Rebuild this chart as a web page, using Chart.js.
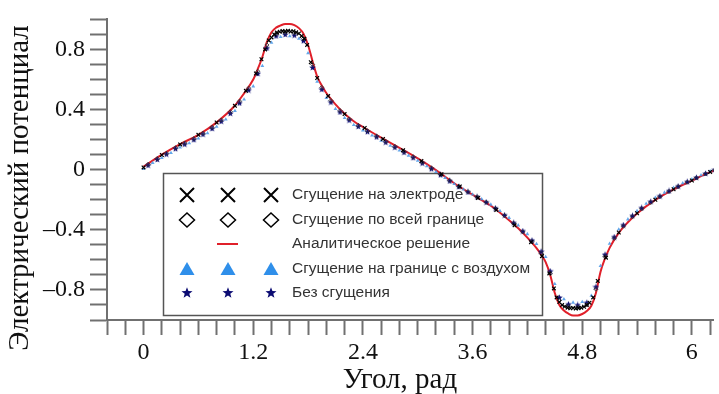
<!DOCTYPE html>
<html>
<head>
<meta charset="utf-8">
<script src="https://cdn.jsdelivr.net/npm/chart.js@4"></script>
<style>
  html, body { margin: 0; padding: 0; background: #fff; }
  #wrap { width: 719px; height: 394px; }
</style>
</head>
<body>
<div id="wrap"><canvas id="chart" width="719" height="394"></canvas></div>
<script>
// Angles (rad) at which the numerical solutions are sampled
const gridAngles = [0.0,0.1,0.2,0.3,0.4,0.5,0.6,0.7,0.8,0.9,1.0,1.1,1.2,1.3,1.4,1.5,1.6,1.7,1.8,1.9,
  2.0,2.1,2.2,2.3,2.4,2.5,2.6,2.7,2.8,2.9,3.0,3.1,3.2,3.3,3.4,3.5,3.6,3.7,3.8,3.9,
  4.0,4.1,4.2,4.3,4.4,4.5,4.6,4.7,4.8,4.9,5.0,5.1,5.2,5.3,5.4,5.5,5.6,5.7,5.8,5.9,6.0,6.1,6.2];
const halfAngles = [0.05,0.15,0.25,0.35,0.45,0.55,0.65,0.75,0.85,0.95,1.05,1.15,1.25,1.35,1.45,1.55,1.65,1.75,1.85,1.95,
  2.05,2.15,2.25,2.35,2.45,2.55,2.65,2.75,2.85,2.95,3.05,3.15,3.25,3.35,3.45,3.55,3.65,3.75,3.85,3.95,
  4.05,4.15,4.25,4.35,4.45,4.55,4.65,4.75,4.85,4.95,5.05,5.15,5.25,5.35,5.45,5.55,5.65,5.75,5.85,5.95,6.05,6.15,6.25];

// Mesh refined on the electrode: sparse elsewhere, dense on the electrodes
const electrodeAngles = [0.0,0.2,0.4,0.6,0.8,1.0,1.12,1.23,1.29,1.33,1.37,1.40,1.43,1.46,1.49,1.52,1.55,1.58,1.61,1.64,
  1.67,1.70,1.73,1.76,1.79,1.83,1.90,2.02,2.20,2.42,2.62,2.84,3.04,3.26,3.46,3.66,3.86,4.06,4.24,4.36,
  4.44,4.49,4.52,4.55,4.58,4.61,4.64,4.67,4.70,4.73,4.76,4.79,4.82,4.85,4.88,4.92,4.97,5.06,5.20,5.40,5.60,5.80,6.00,6.20];
const electrodeValues = [0.015,0.098,0.168,0.232,0.314,0.425,0.525,0.640,0.735,0.800,0.860,0.880,0.900,0.912,0.918,0.922,0.920,0.924,0.919,0.921,
  0.914,0.906,0.890,0.872,0.830,0.715,0.610,0.490,0.370,0.278,0.205,0.130,0.058,-0.030,-0.112,-0.188,-0.268,-0.370,-0.482,-0.575,
  -0.690,-0.790,-0.850,-0.880,-0.900,-0.910,-0.918,-0.922,-0.920,-0.924,-0.921,-0.918,-0.912,-0.900,-0.885,-0.850,-0.740,-0.585,-0.418,-0.290,-0.200,-0.130,-0.072,-0.015];

// Mesh refined along the whole boundary (sampled at halfAngles)
const boundaryValues = [0.036,0.074,0.110,0.146,0.178,0.207,0.243,0.283,0.331,0.386,0.456,0.543,0.655,0.830,0.905,0.912,0.910,0.872,0.700,0.548,
  0.460,0.393,0.338,0.295,0.259,0.224,0.189,0.155,0.121,0.086,0.050,0.012,-0.030,-0.071,-0.110,-0.146,-0.180,-0.216,-0.258,-0.305,
  -0.357,-0.414,-0.478,-0.556,-0.690,-0.870,-0.908,-0.913,-0.900,-0.795,-0.578,-0.457,-0.376,-0.313,-0.260,-0.218,-0.180,-0.145,-0.113,-0.083,-0.055,-0.028,-0.002];

// Mesh refined on the air boundary (sampled at gridAngles)
const airValues = [0.005,0.045,0.078,0.112,0.148,0.176,0.208,0.243,0.286,0.335,0.392,0.468,0.555,0.690,0.845,0.884,0.889,0.872,0.775,0.585,
  0.478,0.405,0.345,0.298,0.262,0.228,0.194,0.160,0.128,0.094,0.060,0.024,-0.014,-0.054,-0.094,-0.131,-0.164,-0.196,-0.232,-0.274,
  -0.320,-0.370,-0.428,-0.494,-0.580,-0.760,-0.862,-0.884,-0.880,-0.838,-0.640,-0.492,-0.398,-0.330,-0.274,-0.226,-0.186,-0.152,-0.119,-0.090,-0.064,-0.037,-0.010];

// Uniform mesh (sampled at halfAngles)
const uniformValues = [0.030,0.068,0.104,0.140,0.170,0.200,0.236,0.274,0.322,0.375,0.444,0.530,0.640,0.810,0.890,0.900,0.895,0.858,0.680,0.535,
  0.450,0.384,0.330,0.288,0.253,0.218,0.183,0.149,0.116,0.080,0.044,0.006,-0.034,-0.075,-0.113,-0.148,-0.181,-0.216,-0.256,-0.302,
  -0.353,-0.408,-0.470,-0.545,-0.675,-0.850,-0.895,-0.900,-0.885,-0.780,-0.565,-0.448,-0.368,-0.306,-0.254,-0.212,-0.175,-0.141,-0.110,-0.080,-0.052,-0.025,0.000];

// Analytic solution
const analyticAngles = [0,0.2,0.4,0.6,0.8,1.0,1.1,1.2,1.25,1.3,1.35,1.4,1.45,1.5,1.55,1.6,1.65,1.7,1.75,1.8,
  1.85,1.9,1.95,2.0,2.1,2.2,2.3,2.4,2.6,2.8,3.0,3.2,3.4,3.6,3.8,4.0,4.1,4.2,4.3,4.35,
  4.4,4.45,4.5,4.55,4.6,4.65,4.7,4.75,4.8,4.85,4.9,4.95,5.0,5.05,5.1,5.2,5.3,5.4,5.6,5.8,6.0,6.2,6.28];
const analyticValues = [0.020,0.100,0.170,0.232,0.315,0.427,0.508,0.600,0.670,0.750,0.850,0.915,0.945,0.960,0.970,0.970,0.962,0.942,0.905,0.830,
  0.720,0.620,0.560,0.510,0.435,0.372,0.322,0.284,0.213,0.145,0.075,-0.003,-0.090,-0.166,-0.240,-0.336,-0.390,-0.452,-0.522,-0.565,
  -0.615,-0.700,-0.820,-0.900,-0.937,-0.958,-0.970,-0.970,-0.960,-0.940,-0.905,-0.820,-0.680,-0.590,-0.520,-0.420,-0.350,-0.292,-0.201,-0.131,-0.073,-0.016,0.000];

// Axis labels
const xLabelValues = [0, 1.2, 2.4, 3.6, 4.8, 6.0];
const xLabelTexts = ['0', '1.2', '2.4', '3.6', '4.8', '6'];
const yLabelValues = [-0.8, -0.4, 0, 0.4, 0.8];
const yLabelTexts = ['\u20130.8', '\u20130.4', '0', '0.4', '0.8'];

const seriesNames = ['Сгущение на электроде', 'Сгущение по всей границе', 'Аналитическое решение',
  'Сгущение на границе с воздухом', 'Без сгущения'];

const pairs = (xs, ys) => xs.map((x, i) => ({ x, y: ys[i] }));

const COLORS = { cross: '#000000', diamond: '#000000', analytic: '#e0202a', air: '#2f8fea', star: '#0b0b72', axis: '#707070' };
const SERIF = '"Liberation Serif", "Times New Roman", serif';
const SANS = '"Liberation Sans", Arial, sans-serif';

function starPath(ctx, cx, cy, ro, ri) {
  ctx.beginPath();
  for (let i = 0; i < 10; i++) {
    const r = i % 2 === 0 ? ro : ri;
    const a = -Math.PI / 2 + i * Math.PI / 5;
    const px = cx + r * Math.cos(a), py = cy + r * Math.sin(a);
    if (i === 0) ctx.moveTo(px, py); else ctx.lineTo(px, py);
  }
  ctx.closePath();
}

// small filled star used as a point style
const starImg = document.createElement('canvas');
starImg.width = 7; starImg.height = 7;
(function () {
  const c = starImg.getContext('2d');
  c.fillStyle = COLORS.star;
  starPath(c, 3.5, 3.7, 3.4, 1.5);
  c.fill();
})();

function nearest(v, list) {
  for (let i = 0; i < list.length; i++) if (Math.abs(v - list[i]) < 1e-6) return i;
  return -1;
}

// legend box with three marker columns
const legendBox = {
  id: 'legendBox',
  beforeDatasetsDraw(chart) {
    const c = chart.ctx;
    c.save();
    c.fillStyle = '#ffffff';
    c.fillRect(163.5, 173.5, 379, 142);
    c.strokeStyle = '#555555';
    c.lineWidth = 1.5;
    c.strokeRect(163.5, 173.5, 379, 142);
    const cols = [187, 228, 271];
    const rows = [195, 220, 244, 269, 293];
    // crosses
    c.strokeStyle = COLORS.cross; c.lineWidth = 2;
    cols.forEach(x => {
      const y = rows[0];
      c.beginPath();
      c.moveTo(x - 7, y - 7); c.lineTo(x + 7, y + 7);
      c.moveTo(x + 7, y - 7); c.lineTo(x - 7, y + 7);
      c.stroke();
    });
    // diamonds
    c.lineWidth = 1.5;
    cols.forEach(x => {
      const y = rows[1];
      c.beginPath();
      c.moveTo(x, y - 7); c.lineTo(x + 7.5, y); c.lineTo(x, y + 7); c.lineTo(x - 7.5, y); c.closePath();
      c.stroke();
    });
    // analytic line
    c.strokeStyle = COLORS.analytic; c.lineWidth = 2;
    c.beginPath(); c.moveTo(217, rows[2]); c.lineTo(238, rows[2]); c.stroke();
    // triangles
    c.fillStyle = COLORS.air;
    cols.forEach(x => {
      const y = rows[3];
      c.beginPath();
      c.moveTo(x, y - 7); c.lineTo(x + 7.5, y + 6); c.lineTo(x - 7.5, y + 6); c.closePath();
      c.fill();
    });
    // stars
    c.fillStyle = COLORS.star;
    cols.forEach(x => { starPath(c, x, rows[4], 5.8, 2.4); c.fill(); });
    // texts
    c.fillStyle = '#333';
    c.font = '15.5px ' + SANS;
    c.textBaseline = 'middle';
    c.textAlign = 'left';
    seriesNames.forEach((name, i) => c.fillText(name, 292, rows[i]));
    c.restore();
  },
  afterDraw(chart) {
    const c = chart.ctx;
    c.save();
    c.fillStyle = '#111';
    c.font = '29px ' + SERIF;
    c.textAlign = 'center';
    c.textBaseline = 'middle';
    c.fillText('Угол, рад', 400, 380);
    c.translate(20, 188);
    c.rotate(-Math.PI / 2);
    c.fillText('Электрический потенциал', 0, 0);
    c.restore();
  }
};

const ctx = document.getElementById('chart').getContext('2d');
new Chart(ctx, {
  type: 'scatter',
  data: {
    datasets: [
      {
        label: seriesNames[0], data: pairs(electrodeAngles, electrodeValues), order: 1,
        pointStyle: 'crossRot', pointRadius: 2.6, borderColor: COLORS.cross, borderWidth: 1.2, backgroundColor: COLORS.cross
      },
      {
        label: seriesNames[1], data: pairs(halfAngles, boundaryValues), order: 2,
        pointStyle: 'rectRot', pointRadius: 2, borderColor: '#333', borderWidth: 0.9, backgroundColor: 'rgba(0,0,0,0)'
      },
      {
        label: seriesNames[4], data: pairs(halfAngles, uniformValues), order: 3,
        pointStyle: starImg, pointRadius: 3
      },
      {
        label: seriesNames[3], data: pairs(gridAngles, airValues), order: 4,
        pointStyle: 'triangle', pointRadius: 2.2, borderWidth: 0, borderColor: COLORS.air, backgroundColor: 'rgba(70,150,230,0.85)'
      },
      {
        type: 'line', label: seriesNames[2], data: pairs(analyticAngles, analyticValues), order: 5,
        showLine: true, borderColor: COLORS.analytic, borderWidth: 2, pointRadius: 0,
        cubicInterpolationMode: 'monotone', fill: false
      }
    ]
  },
  options: {
    responsive: false,
    animation: false,
    devicePixelRatio: 1,
    layout: { padding: { top: 11, right: 0, left: 0, bottom: 0 } },
    plugins: { legend: { display: false }, tooltip: { enabled: false } },
    scales: {
      x: {
        type: 'linear', min: -0.4, max: 6.24,
        afterBuildTicks: s => {
          const t = [];
          for (let i = 0; i <= 33; i++) t.push({ value: Math.round((-0.4 + i * 0.2) * 10) / 10 });
          s.ticks = t;
        },
        afterFit: s => { s.height = 74; },
        ticks: {
          autoSkip: false, maxRotation: 0, padding: 3, color: '#111',
          font: { family: SERIF, size: 24 },
          callback: v => { const i = nearest(v, xLabelValues); return i >= 0 ? xLabelTexts[i] : ''; }
        },
        grid: { drawOnChartArea: false, drawTicks: true, tickLength: 15, tickColor: COLORS.axis, tickWidth: 2 },
        border: { display: true, color: COLORS.axis, width: 2 }
      },
      y: {
        type: 'linear', min: -1, max: 1,
        afterBuildTicks: s => {
          const t = [];
          for (let i = 0; i <= 20; i++) t.push({ value: Math.round((-1 + i * 0.1) * 10) / 10 });
          s.ticks = t;
        },
        afterFit: s => { s.width = 107; },
        ticks: {
          autoSkip: false, padding: 5, color: '#111',
          font: { family: SERIF, size: 24 },
          callback: v => { const i = nearest(v, yLabelValues); return i >= 0 ? yLabelTexts[i] : ''; }
        },
        grid: { drawOnChartArea: false, drawTicks: true, tickLength: 17, tickColor: COLORS.axis, tickWidth: 2 },
        border: { display: true, color: COLORS.axis, width: 2 }
      }
    }
  },
  plugins: [legendBox]
});
</script>
</body>
</html>
